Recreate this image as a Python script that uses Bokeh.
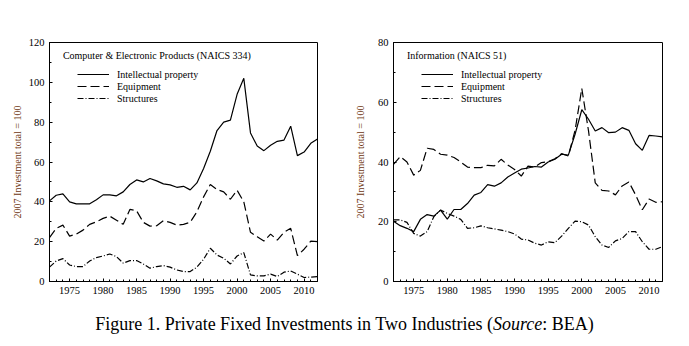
from bokeh.plotting import figure
from bokeh.models import Range1d, Legend, LegendItem, Label, Div, FixedTicker
from bokeh.layouts import column, row
from bokeh.embed import file_html
from bokeh.resources import INLINE

years = list(range(1972, 2013))

# Computer & Electronic Products (NAICS 334)
cep_ip = [40.5, 43.3, 44.0, 40.0, 39.0, 39.0, 39.0, 41.0, 43.5, 43.5, 43.0, 45.0,
          48.7, 51.0, 50.0, 51.7, 50.5, 49.0, 48.5, 47.3, 47.8, 46.0, 49.5, 56.7,
          65.4, 75.8, 80.0, 81.0, 94.0, 102.0, 74.6, 68.0, 65.7, 68.4, 70.4, 71.0,
          78.0, 63.2, 65.0, 69.4, 71.6]
cep_eq = [22.0, 26.7, 28.3, 22.8, 23.8, 25.8, 28.7, 30.0, 31.7, 32.8, 30.8, 28.7,
          36.2, 35.5, 29.7, 27.8, 28.0, 30.5, 29.7, 28.3, 28.7, 29.7, 35.0, 42.5,
          48.7, 46.2, 45.0, 41.3, 45.8, 40.0, 24.7, 22.5, 20.3, 23.8, 20.8, 24.7,
          26.7, 13.0, 16.2, 20.3, 20.0]
cep_st = [7.2, 10.3, 11.5, 8.3, 7.5, 7.5, 10.3, 12.0, 12.8, 13.8, 12.5, 9.2,
          10.5, 10.5, 8.8, 6.7, 7.5, 8.0, 7.2, 5.8, 5.0, 5.0, 7.2, 11.2,
          16.7, 13.3, 11.7, 8.8, 12.8, 14.5, 3.3, 2.8, 2.8, 3.7, 2.5, 4.7,
          5.3, 3.7, 2.0, 2.2, 2.5]

# Information (NAICS 51)
inf_ip = [20.2, 18.7, 17.8, 16.7, 20.8, 22.4, 21.9, 23.9, 20.9, 24.1, 24.1, 26.1,
          28.9, 29.8, 32.4, 31.9, 33.0, 35.0, 36.3, 37.6, 38.0, 38.5, 38.3, 40.0,
          40.9, 42.6, 42.3, 49.3, 57.5, 54.3, 50.4, 51.5, 49.8, 50.0, 51.5, 50.6,
          46.1, 43.9, 48.9, 48.7, 48.4]
inf_eq = [39.2, 41.8, 40.0, 35.6, 37.2, 44.6, 44.2, 42.6, 42.3, 41.5, 40.0, 38.3,
          38.1, 38.1, 38.9, 38.7, 40.9, 39.0, 37.5, 35.3, 38.6, 38.3, 39.8, 40.1,
          41.1, 42.8, 42.0, 50.6, 64.6, 50.4, 33.0, 30.5, 30.3, 29.0, 32.0, 33.3,
          29.0, 24.0, 27.6, 26.5, 26.7]
inf_st = [20.6, 20.6, 19.8, 16.1, 15.2, 16.7, 21.7, 23.9, 22.8, 21.9, 20.8, 17.8,
          18.0, 18.6, 18.0, 17.6, 17.2, 16.7, 15.9, 14.2, 13.9, 12.8, 12.2, 13.3,
          13.0, 15.2, 17.8, 20.2, 20.0, 18.9, 15.0, 12.2, 11.4, 13.6, 14.4, 16.7,
          16.7, 13.3, 10.8, 10.8, 11.7]

x_ticks = [1975, 1980, 1985, 1990, 1995, 2000, 2005, 2010]
series_names = ["Intellectual property", "Equipment", "Structures"]
FONT = "Liberation Serif"


def panel(title, ymax, ip, eq, st, width, mb_left, mb_right, lab_standoff, title_pos):
    p = figure(width=width, height=305, x_range=Range1d(1972, 2012),
               y_range=Range1d(0, ymax), output_backend="svg", toolbar_location=None,
               min_border_left=mb_left, min_border_right=mb_right,
               min_border_top=42, min_border_bottom=24)
    p.grid.visible = False
    p.outline_line_color = "black"
    p.outline_line_width = 1
    p.background_fill_color = "white"
    p.border_fill_color = "white"

    r1 = p.line(years, ip, line_color="black", line_width=1.2)
    r2 = p.line(years, eq, line_color="black", line_width=1.2, line_dash="9 4")
    r3 = p.line(years, st, line_color="black", line_width=1.2, line_dash="6 2 1 2")

    p.xaxis.ticker = FixedTicker(ticks=x_ticks, minor_ticks=years)
    p.yaxis.ticker = FixedTicker(ticks=list(range(0, ymax + 1, 20)),
                                 minor_ticks=list(range(0, ymax + 1, 10)))
    for ax in (p.xaxis[0], p.yaxis[0]):
        ax.major_tick_in = 3
        ax.major_tick_out = 0
        ax.minor_tick_in = 2
        ax.minor_tick_out = 0
        ax.axis_line_color = "black"
        ax.major_label_text_font = FONT
        ax.major_label_text_font_size = "10.5px"
        ax.major_label_text_color = "black"
    p.xaxis.major_label_standoff = 5
    p.yaxis.major_label_standoff = 5
    p.yaxis.axis_label = "2007 Investment total = 100"
    p.yaxis.axis_label_text_font = FONT
    p.yaxis.axis_label_text_font_style = "normal"
    p.yaxis.axis_label_text_font_size = "10px"
    p.yaxis.axis_label_text_color = "#6e3510"
    p.yaxis.axis_label_standoff = lab_standoff

    p.add_layout(Label(x=title_pos[0], y=title_pos[1], text=title,
                       text_font=FONT, text_font_size="10px",
                       text_baseline="middle", text_color="black"))

    legend = Legend(items=[LegendItem(label=series_names[0], renderers=[r1]),
                           LegendItem(label=series_names[1], renderers=[r2]),
                           LegendItem(label=series_names[2], renderers=[r3])],
                    location=(28, 177))
    legend.border_line_color = None
    legend.background_fill_alpha = 0
    legend.padding = 0
    legend.margin = 0
    legend.spacing = 0
    legend.label_height = 12
    legend.glyph_height = 12
    legend.glyph_width = 32
    legend.label_standoff = 8
    legend.label_text_font = FONT
    legend.label_text_font_size = "10px"
    legend.label_text_color = "black"
    p.add_layout(legend)
    return p


p1 = panel("Computer & Electronic Products (NAICS 334)", 120, cep_ip, cep_eq, cep_st,
           345, 49, 28, 3, (1974.0, 113.5))
p2 = panel("Information (NAICS 51)", 80, inf_ip, inf_eq, inf_st,
           344, 48, 27, 9, (1974.0, 75.6))

caption = Div(text='Figure 1. Private Fixed Investments in Two Industries (<i>Source</i>: BEA)',
              width=689, height=41, margin=(0, 0, 0, 0),
              styles={"font-family": "Liberation Serif", "font-size": "18px",
                      "text-align": "center", "padding-top": "7px", "color": "black",
                      "width": "689px", "box-sizing": "border-box"})

layout = column(row(p1, p2, spacing=0), caption, spacing=0)
open("out.html", "w").write(file_html(layout, INLINE))
